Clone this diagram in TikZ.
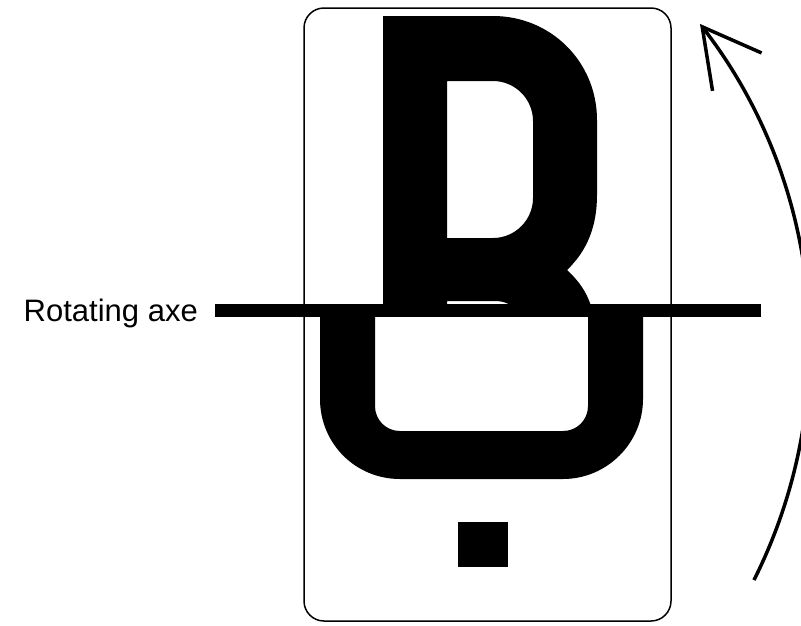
\documentclass[tikz,border=0pt]{standalone}
\usepackage{fontspec}
\newfontfamily\axefont{Liberation Sans}
\usetikzlibrary{arrows.meta}

\begin{document}
\begin{tikzpicture}[
    x=1pt, y=-1pt,
    every node/.style={align=center},
    card/.style={
        rectangle,
        rounded corners=20pt,
        draw=black,
        line width=1.5pt,
        fill=white,
        minimum width=367pt,
        minimum height=613pt,
        inner sep=0pt
    },
    glyph/.style={
        fill=black,
        even odd rule
    },
    axe/.style={
        draw=black,
        line width=13pt
    },
    axelabel/.style={
        font=\axefont\fontsize{31}{37}\selectfont,
        inner sep=0pt
    },
    turn/.style={
        draw=black,
        line width=3.5pt,
        -{Straight Barb[length=57pt,width=62pt]}
    },
]

\useasboundingbox (0,0) rectangle (801,625);

\node[card] (card) at (487.5,314.5) {};

% upper half of the letter
\fill[glyph] (383,310) -- (383,16) -- (493,16)
    .. controls (551,16) and (597,62) .. (597,120) -- (597,195)
    .. controls (597,225) and (588,250) .. (567,270)
    .. controls (578,280) and (588,293) .. (592,310) -- cycle
    (447,81) -- (493,81) .. controls (515,81) and (533,99) .. (533,121) -- (533,198)
    .. controls (533,220) and (515,238) .. (493,238) -- (447,238) -- cycle
    (447,301) -- (495,301) .. controls (505,301) and (512,305) .. (515,310) -- (447,310) -- cycle;

% lower half of the letter
\fill[glyph] (320,310) -- (320,399) .. controls (320,443) and (355,479) .. (400,479) -- (563,479)
    .. controls (607,479) and (643,443) .. (643,399) -- (643,310) -- cycle
    (375,310) -- (375,406) .. controls (375,420) and (386,431) .. (400,431) -- (563,431)
    .. controls (577,431) and (588,420) .. (588,406) -- (588,310) -- cycle;
\fill[glyph] (458,522) rectangle (508,567);

\node[axelabel, anchor=base east] (axename) at (198,321) {Rotating axe};
\coordinate (axeleft)  at (215,310.5);
\coordinate (axeright) at (761,310.5);
\draw[axe] (axeleft) -- (axeright);

\coordinate (arcfoot) at (754,580);
\draw[turn] (arcfoot) arc[start angle=26.6, end angle=-37.7, radius=525];

\end{tikzpicture}
\end{document}
